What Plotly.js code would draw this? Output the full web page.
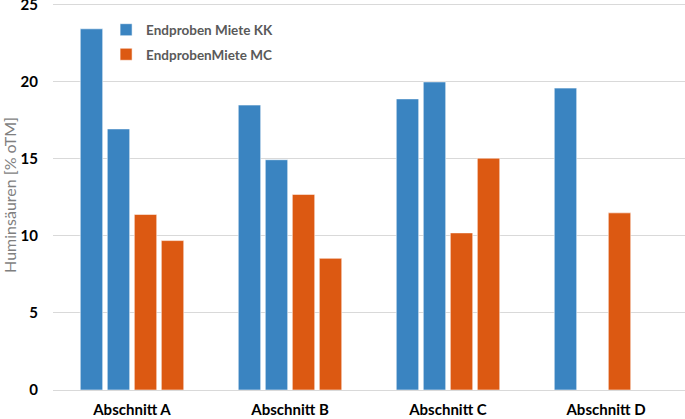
<!DOCTYPE html>
<html>
<head>
<meta charset="utf-8">
<script src="https://cdn.plot.ly/plotly-3.0.1.min.js"></script>
<style>html,body{margin:0;padding:0;background:#fff;}#chart{width:685px;height:419px;}</style>
</head>
<body>
<div id="chart"></div>
<script>
const categories = ["Abschnitt A", "Abschnitt B", "Abschnitt C", "Abschnitt D"];
const kk1 = [23.45, 18.5, 18.9, 19.6];
const kk2 = [16.95, 14.95, 20.0, null];
const mc1 = [11.4, 12.7, 10.2, 11.5];
const mc2 = [9.7, 8.55, 15.05, null];
const seriesNames = ["Endproben Miete KK", "EndprobenMiete MC"];
const yTicks = [0, 5, 10, 15, 20, 25];

const blue = "#3A84C1";
const orange = "#DC5912";

function bar(y, color, group, name, show) {
  return {
    type: "bar", x: categories, y: y, name: name,
    legendgroup: group, showlegend: show,
    marker: {color: color, line: {color: "rgba(255,255,255,0.55)", width: 1}},
    hoverinfo: "skip"
  };
}

const data = [
  bar(kk1, blue, "kk", seriesNames[0], true),
  bar(kk2, blue, "kk", seriesNames[0], false),
  bar(mc1, orange, "mc", seriesNames[1], true),
  bar(mc2, orange, "mc", seriesNames[1], false)
];

const layout = {
  width: 685, height: 419,
  margin: {l: 53, r: 0, t: 0, b: 29},
  paper_bgcolor: "#fff", plot_bgcolor: "#fff",
  barmode: "group", bargap: 0.316, bargroupgap: 0.17,
  font: {family: "Lato, 'Open Sans', sans-serif"},
  xaxis: {
    type: "category", range: [-0.5, 3.5],
    showgrid: false, showline: false, zeroline: false,
    ticks: "", ticklabelstandoff: 9,
    tickfont: {size: 15, color: "#000", weight: "bold"}
  },
  yaxis: {
    range: [0, 25.32], tickmode: "array", tickvals: yTicks, ticktext: yTicks.map(String),
    ticklabeloverflow: "allow",
    showgrid: true, gridcolor: "#D9D9D9", gridwidth: 1,
    zeroline: true, zerolinecolor: "#D9D9D9", zerolinewidth: 1,
    showline: false, ticks: "", ticklabelstandoff: 14,
    tickfont: {size: 15, color: "#000", weight: "bold"},
    title: {text: "Huminsäuren [% oTM]", font: {size: 16, color: "#7F7F7F"}, standoff: 10}
  },
  legend: {
    x: 0.084, y: 0.963, xanchor: "left", yanchor: "top",
    bgcolor: "rgba(0,0,0,0)", tracegroupgap: 4,
    font: {size: 13.5, color: "#595959", weight: "bold"}
  },
  showlegend: true
};

Plotly.newPlot("chart", data, layout, {displayModeBar: false, staticPlot: true});
</script>
</body>
</html>
